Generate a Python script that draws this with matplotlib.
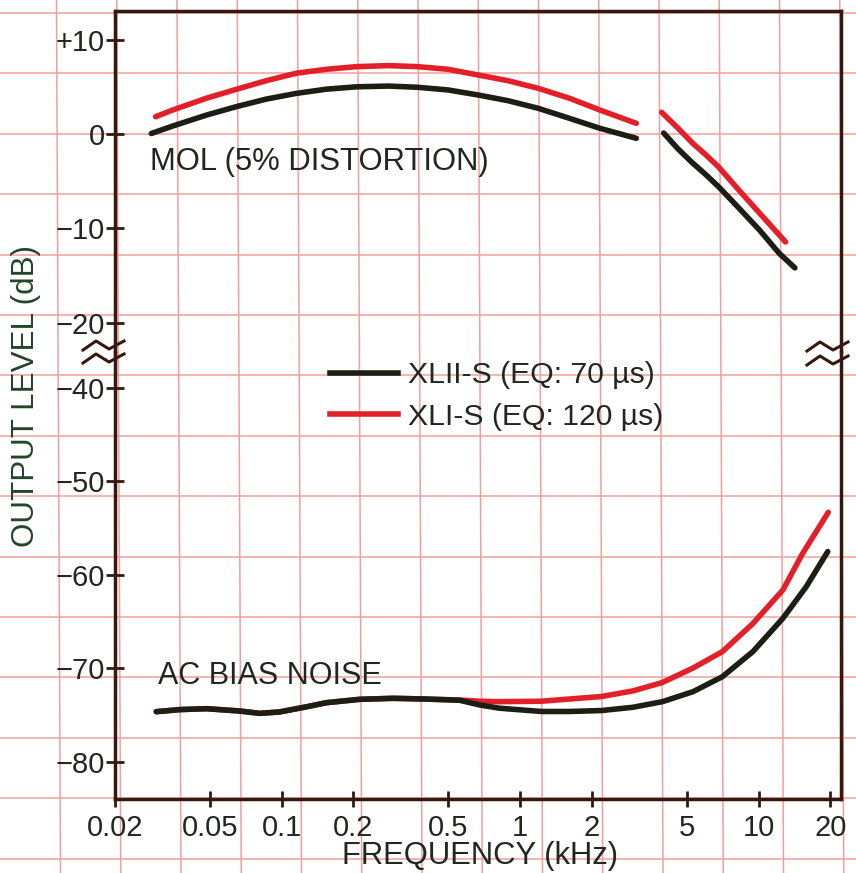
import matplotlib
matplotlib.use("Agg")
import matplotlib.pyplot as plt
from matplotlib.lines import Line2D

plt.rcParams['font.family'] = ['Liberation Sans', 'DejaVu Sans']

W, H = 856, 873

# ---------------- data (frequency kHz, level dB) ----------------
xtick_vals = [0.02, 0.05, 0.1, 0.2, 0.5, 1, 2, 5, 10, 20]
xtick_labels = ["0.02", "0.05", "0.1", "0.2", "0.5", "1", "2", "5", "10", "20"]
ytick_top_vals = [10, 0, -10, -20]
ytick_top_labels = ["+10", "0", "\u221210", "\u221220"]
ytick_bot_vals = [-40, -50, -60, -70, -80]
ytick_bot_labels = ["\u221240", "\u221250", "\u221260", "\u221270", "\u221280"]

series_names = ["XLII-S (EQ: 70 \u00b5s)", "XLI-S (EQ: 120 \u00b5s)"]

# MOL (5% distortion), low/mid band segment
mol1_f_black = [0.0284, 0.035, 0.0483, 0.0646, 0.0862, 0.115, 0.154, 0.206, 0.28, 0.372,
                0.498, 0.665, 0.889, 1.188, 1.61, 2.155, 3.07]
mol1_db_black = [0.05, 0.85, 2.0, 2.9, 3.7, 4.3, 4.75, 5.0, 5.08, 4.95,
                 4.67, 4.14, 3.53, 2.73, 1.66, 0.61, -0.46]
mol1_f_red = [0.0296, 0.035, 0.0483, 0.0646, 0.0862, 0.115, 0.154, 0.206, 0.28, 0.372,
              0.498, 0.665, 0.889, 1.188, 1.61, 2.155, 3.07]
mol1_db_red = [1.83, 2.55, 3.79, 4.74, 5.65, 6.44, 6.86, 7.14, 7.25, 7.14,
               6.86, 6.26, 5.65, 4.85, 3.79, 2.55, 1.13]
# MOL, high band segment
mol2_f_black = [4.0, 4.6, 5.3, 6.0, 6.8, 8.3, 10.1, 12.2, 14.2]
mol2_db_black = [0.1, -1.6, -3.1, -4.3, -5.6, -7.9, -10.2, -12.65, -14.2]
mol2_f_red = [3.92, 4.6, 5.3, 6.0, 6.8, 8.3, 10.1, 12.2, 12.98]
mol2_db_red = [2.3, 0.6, -1.0, -2.2, -3.5, -6.0, -8.4, -10.7, -11.45]

# AC bias noise
noise_f_black = [0.0298, 0.0373, 0.0483, 0.0667, 0.0809, 0.098, 0.127, 0.154, 0.2124, 0.293,
                 0.391, 0.557, 0.676, 0.82, 1.23, 1.6, 2.19, 2.97, 3.95, 5.31, 7.05, 9.46,
                 12.65, 15.85, 19.5]
noise_db_black = [-74.62, -74.4, -74.3, -74.55, -74.8, -74.65, -74.1, -73.66, -73.3, -73.19,
                  -73.26, -73.4, -73.9, -74.25, -74.6, -74.6, -74.5, -74.15, -73.55, -72.48,
                  -70.88, -68.2, -64.63, -61.25, -57.5]
noise_f_red = [0.0298, 0.0373, 0.0483, 0.0667, 0.0809, 0.098, 0.127, 0.154, 0.2124, 0.293,
               0.391, 0.557, 0.676, 0.82, 1.23, 2.19, 2.97, 3.95, 5.31, 7.05, 9.46,
               12.65, 15.3, 19.6]
noise_db_red = [-74.62, -74.4, -74.3, -74.55, -74.8, -74.65, -74.1, -73.66, -73.3, -73.19,
                -73.26, -73.37, -73.5, -73.55, -73.5, -73.0, -72.4, -71.5, -69.95, -68.2, -65.2,
                -61.6, -57.7, -53.3]

# ---------------- styling ----------------
RED = "#e3202a"
BLACK = "#1a1e14"
FRAME = "#35190f"
TXT = "#1f281f"
GREEN = "#22452a"
GRID = "#f0a09c"
LW = 4.0


def fx(x):
    return x / W


def fy(y):
    return 1 - y / H


fig = plt.figure(figsize=(W / 100, H / 100), dpi=100)
fig.patch.set_facecolor("white")

# graph-paper background (independent of the data)
for k in range(15):
    x0 = 56.5 + 60.25 * k
    x1 = 60.5 + 60.25 * k
    fig.add_artist(Line2D([fx(x0), fx(x1)], [fy(0), fy(H)], color=GRID, lw=1.1, zorder=-5))
for k in range(15):
    y0 = 13 + 60.4 * k
    fig.add_artist(Line2D([0, 1], [fy(y0), fy(y0)], color=GRID, lw=1.1, zorder=-5))

left, right = fx(115), fx(840.7)
y_top, y_brk, y_bot = fy(11), fy(352), fy(799)
ax_t = fig.add_axes([left, y_brk, right - left, y_top - y_brk])
ax_b = fig.add_axes([left, y_bot, right - left, y_brk - y_bot])

for ax in (ax_t, ax_b):
    ax.set_facecolor("none")
    ax.set_xscale("log")
    ax.set_xlim(0.02, 22.1)
    ax.minorticks_off()
    for s in ax.spines.values():
        s.set_color(FRAME)
        s.set_linewidth(2.5)
        s.set_zorder(10)
    ax.tick_params(axis="y", direction="inout", length=13, width=2, color=FRAME,
                   labelsize=21, labelcolor=TXT, pad=1)
    ax.tick_params(axis="x", direction="inout", length=11, width=2, color=FRAME,
                   labelsize=21, labelcolor=TXT, pad=5)

ax_t.spines["bottom"].set_visible(False)
ax_b.spines["top"].set_visible(False)
ax_t.set_ylim(-23.12, 13.04)
ax_b.set_ylim(-83.96, -36.15)

ax_t.set_xticks([])
ax_t.tick_params(axis="x", which="both", bottom=False, labelbottom=False)
ax_b.set_xticks(xtick_vals)
ax_b.set_xticklabels(xtick_labels)
ax_t.set_yticks(ytick_top_vals)
ax_t.set_yticklabels(ytick_top_labels)
ax_b.set_yticks(ytick_bot_vals)
ax_b.set_yticklabels(ytick_bot_labels)

# curves
kw = dict(lw=LW, solid_capstyle="round", solid_joinstyle="round")
ax_t.plot(mol1_f_red, mol1_db_red, color=RED, **kw)
ax_t.plot(mol1_f_black, mol1_db_black, color=BLACK, **kw)
ax_t.plot(mol2_f_red, mol2_db_red, color=RED, **kw)
ax_t.plot(mol2_f_black, mol2_db_black, color=BLACK, **kw)
ax_b.plot(noise_f_red, noise_db_red, color=RED, **kw)
ax_b.plot(noise_f_black, noise_db_black, color=BLACK, **kw)

# legend
fig.legend([Line2D([], [], color=BLACK, lw=LW), Line2D([], [], color=RED, lw=LW)],
           series_names, loc="center left",
           bbox_to_anchor=(fx(330), fy(396)), frameon=False,
           fontsize=21.7, handlelength=2.25, handletextpad=0.33,
           labelspacing=0.45, borderpad=0, borderaxespad=0, labelcolor=TXT)

# annotations
fig.text(fx(150), fy(162), "MOL (5% DISTORTION)", fontsize=22.3, color=TXT,
         ha="left", va="center")
fig.text(fx(158), fy(676), "AC BIAS NOISE", fontsize=22, color=TXT,
         ha="left", va="center")

# axis labels
fig.text(fx(480), fy(856), "FREQUENCY (kHz)", fontsize=22.3, color=TXT,
         ha="center", va="center")
fig.text(fx(26), fy(396), "OUTPUT LEVEL (dB)", fontsize=22.6, color=GREEN,
         ha="center", va="center", rotation=90)


# axis-break marks
def zig(xs, y):
    pts_x = [xs, xs + 13, xs + 26, xs + 41]
    pts_y = [y + 4, y - 5, y + 3, y - 5]
    fig.add_artist(Line2D([fx(v) for v in pts_x], [fy(v) for v in pts_y],
                          color=FRAME, lw=2.2, zorder=20))


for yy in (346, 359):
    zig(83, yy)
for yy in (347, 361):
    zig(807, yy)

fig.savefig("out.png", dpi=100, facecolor="white")
